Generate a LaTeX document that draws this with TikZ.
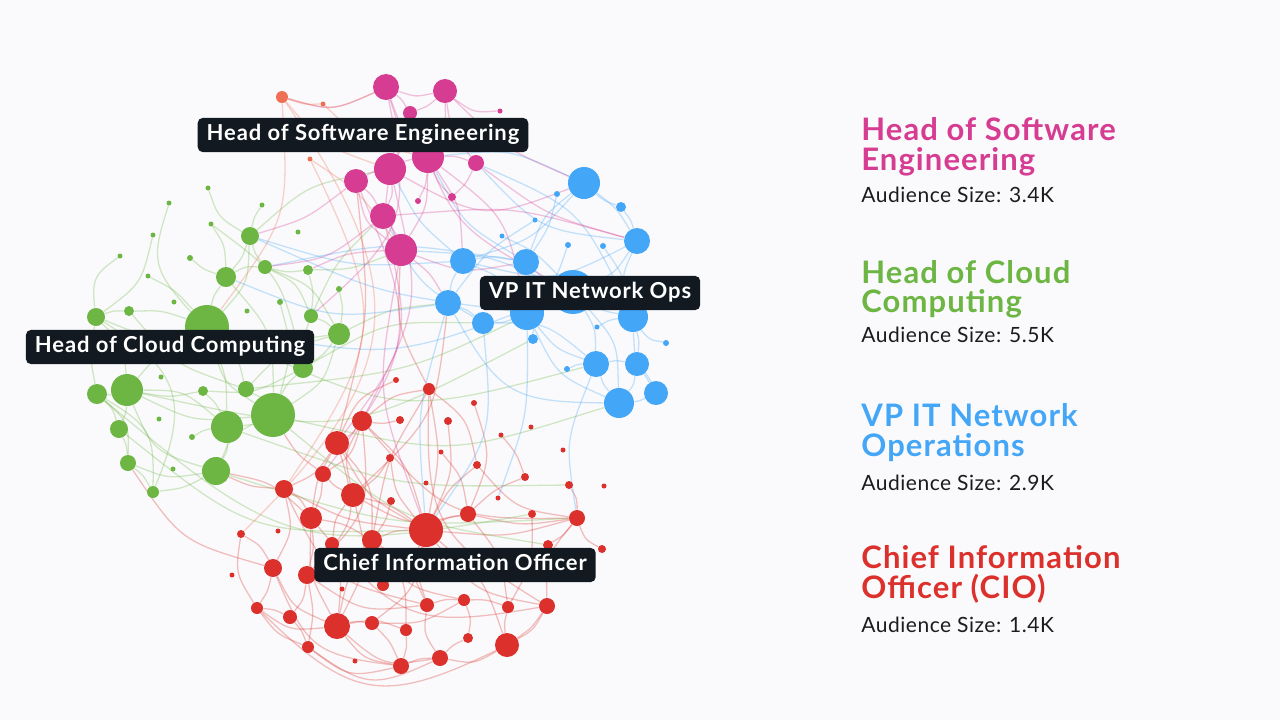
\documentclass[tikz,border=0pt]{standalone}
\usepackage{fontspec}
\setmainfont{Lato}
\newfontfamily\tagfont[LetterSpace=4]{Lato}
\newfontfamily\headfont[LetterSpace=3.5]{Lato}
\newfontfamily\sizefont[LetterSpace=2.5]{Lato}
\usepackage{tikz}
\usetikzlibrary{calc}
\pgfdeclarelayer{paper}
\pgfdeclarelayer{edges}
\pgfsetlayers{paper,edges,main}

\definecolor{pagebg}{HTML}{FAFAFC}
\definecolor{pinkc}{HTML}{D63C91}
\definecolor{greenc}{HTML}{6DB644}
\definecolor{bluec}{HTML}{44A6F7}
\definecolor{redc}{HTML}{DB302B}
\definecolor{coralc}{HTML}{EF6F52}
\definecolor{labelbg}{HTML}{121920}
\definecolor{inkc}{HTML}{1C1C1C}

\tikzset{
  dot/.style={circle, inner sep=0pt, draw=none},
  edge/.style={line width=0.65pt, draw opacity=0.3, looseness=1.35},
  tag/.style={fill=labelbg, text=white, rounded corners=2.5pt, inner xsep=4.5pt,
    text height=8pt, text depth=2.4pt, minimum height=17pt,
    font=\tagfont\fontsize{11}{13}\selectfont\bfseries},
  heading/.style={anchor=base west, inner sep=0pt, font=\headfont\fontsize{15.5}{16}\selectfont\bfseries},
  audience/.style={anchor=base west, inner sep=0pt, text=inkc, font=\sizefont\fontsize{10.5}{12}\selectfont}
}

\begin{document}
\begin{tikzpicture}[x=0.5pt,y=-0.5pt]
\begin{pgfonlayer}{paper}
\fill[pagebg] (0,0) rectangle (1280,720);
\end{pgfonlayer}
\useasboundingbox (0,0) rectangle (1280,720);

% pink cluster
\foreach \n/\x/\y/\r in {1/386/87/13, 2/445/91/12, 3/410/113/7, 4/500/111/2.5, 5/390/169/16,
  6/428/157/16, 7/476/163/8, 8/356/181/12, 9/418/201/3, 10/452/197/4, 11/383/216/13, 12/401/250/16}
\node[dot, fill=pinkc, minimum size=\r pt] (p\n) at (\x,\y) {};
\foreach \n/\x/\y/\r in {1/282/97/6, 2/323/104/2.5, 3/310/159/2.5}
\node[dot, fill=coralc, minimum size=\r pt] (o\n) at (\x,\y) {};

% blue cluster
\foreach \n/\x/\y/\r in {1/584/183/16, 2/557/194/3, 3/621/207/5, 4/535/220/2.5, 5/502/236/2.5,
  6/637/241/13, 7/568/245/3, 8/603/246/3, 9/463/261/13, 10/526/262/13, 11/573/292/22,
  12/448/303/13, 13/483/323/11, 14/527/313/17, 15/633/317/15, 16/533/339/5, 17/597/327/2.5,
  18/666/343/3, 19/596/364/13, 20/637/364/12, 21/567/369/3, 22/619/403/15, 23/656/393/12}
\node[dot, fill=bluec, minimum size=\r pt] (b\n) at (\x,\y) {};

% green cluster
\foreach \n/\x/\y/\r in {1/250/236/9, 2/226/277/10, 3/265/267/7, 4/308/270/5, 5/96/317/9,
  6/129/311/5, 7/207/327/22, 8/311/316/7, 9/339/334/11, 10/303/368/10, 11/127/390/16,
  12/97/394/10, 13/203/391/5, 14/246/389/8, 15/227/427/16, 16/273/415/22, 17/119/429/9,
  18/128/463/8, 19/216/471/14, 20/153/492/6, 21/208/188/2.5, 22/169/203/2.5, 23/262/205/2.5,
  24/211/224/2.5, 25/153/235/2.5, 26/120/256/2.5, 27/190/258/3, 28/148/276/2.5, 29/298/232/2.5,
  30/339/289/3, 31/174/302/2.5, 32/247/311/2.5, 33/280/302/3, 34/161/377/2.5, 35/159/419/2.5,
  36/192/437/3, 37/173/469/2.5}
\node[dot, fill=greenc, minimum size=\r pt] (g\n) at (\x,\y) {};

% red cluster
\foreach \n/\x/\y/\r in {1/396/380/3, 2/429/389/6, 3/362/421/10, 4/400/420/4, 5/448/421/4,
  6/474/403/3, 7/337/443/12, 8/501/435/2.5, 9/531/427/2.5, 10/441/452/2.5, 11/563/450/2.5,
  12/390/458/4, 13/323/474/8, 14/477/465/4, 15/525/477/4, 16/284/489/9, 17/353/495/12,
  18/391/501/4, 19/426/483/2.5, 20/498/498/2.5, 21/569/485/4, 22/604/486/2.5, 23/311/518/11,
  24/426/530/17, 25/468/514/8, 26/532/514/4, 27/577/518/8, 28/241/534/4, 29/278/531/2.5,
  30/332/544/7, 31/372/540/10, 32/548/545/5, 33/602/549/4, 34/273/568/9, 35/307/575/9,
  36/232/575/2.5, 37/383/585/6, 38/342/589/2.5, 39/257/608/6, 40/290/617/7, 41/337/626/13,
  42/372/623/7, 43/427/605/7, 44/464/600/6, 45/508/607/6, 46/547/606/8, 47/406/630/6,
  48/308/647/6, 49/468/638/5, 50/507/645/12, 51/355/661/2.5, 52/401/666/8, 53/440/658/8}
\node[dot, fill=redc, minimum size=\r pt] (r\n) at (\x,\y) {};

\begin{pgfonlayer}{edges}
\foreach \a/\b/\c in {r2/r24/10, r2/r3/-15, r2/r14/20, r2/r31/-10, r3/r7/10, r3/r17/-20,
  r3/r24/15, r3/r13/20, r7/r16/15, r7/r23/-10, r7/r31/20, r7/r24/-15, r13/r23/10, r13/r17/-10,
  r16/r23/15, r16/r34/20, r16/r24/-10, r17/r24/10, r17/r30/-15, r17/r41/20, r17/r25/-20,
  r23/r35/10, r23/r41/-15, r23/r31/10, r24/r31/-10, r24/r25/10, r24/r43/-15, r24/r42/20,
  r24/r46/-20, r24/r50/15, r24/r27/-10, r24/r14/10, r24/r37/15, r25/r27/-10, r25/r45/15,
  r25/r15/10, r27/r46/-20, r27/r32/10, r27/r21/-15, r30/r41/10, r31/r41/-10, r31/r43/15,
  r31/r47/20, r34/r39/10, r34/r41/-20, r35/r40/15, r35/r43/-20, r35/r48/10, r39/r40/10,
  r39/r41/-20, r39/r48/-15, r40/r48/10, r41/r42/10, r41/r52/-20, r41/r47/15, r42/r52/10,
  r42/r44/-15, r43/r44/10, r43/r53/-20, r44/r45/10, r44/r49/15, r45/r50/-10, r46/r50/10,
  r47/r52/10, r49/r53/-10, r50/r53/20, r52/r53/10, r48/r52/-25, r50/r46/-15, r33/r27/20,
  r28/r34/15, r28/r39/-20, r12/r17/10, r12/r24/-15, r18/r31/10, r5/r24/15, r4/r3/10,
  r10/r25/15, r14/r27/-20, r1/r7/-20, r6/r25/20, r8/r15/10, r26/r45/15, r41/r53/-25,
  r34/r52/-30, r16/r43/-25, r23/r46/-30, r39/r50/-35, r7/r35/30, r3/r35/25, r48/r53/-30,
  r44/r31/20, r2/r46/-30, r3/r27/-25, r16/g19/10, r23/g19/-15, r34/g18/20, r13/g16/10,
  r7/p8/-10, r2/p12/15, r17/b12/-20}
\draw[edge, redc] (\a) to[bend left=\c] (\b);
\foreach \a/\b/\c in {g1/g2/10, g1/g3/-10, g1/g7/20, g1/g23/10, g2/g7/-10, g2/g27/10,
  g2/g3/15, g3/g4/-10, g3/g8/20, g4/g8/10, g5/g6/10, g5/g7/-15, g5/g11/20, g5/g12/-10,
  g5/g26/30, g6/g7/10, g7/g11/-10, g7/g14/15, g7/g16/-20, g7/g15/10, g7/g9/-10, g7/g22/30,
  g8/g9/10, g8/g10/-10, g9/g16/20, g9/g10/10, g10/g16/-10, g11/g12/10, g11/g13/-10,
  g11/g15/20, g11/g17/10, g11/g16/-15, g12/g17/15, g12/g18/25, g13/g15/10, g14/g16/10,
  g15/g16/-10, g15/g19/15, g16/g19/-20, g17/g18/10, g18/g19/-15, g18/g20/10, g19/g20/10,
  g11/g19/-25, g12/g20/30, g5/g20/40, g6/g14/-15, g2/g16/20, g13/g10/-15, g14/g9/15,
  g25/g5/20, g21/g1/-20, g24/g2/15, g28/g7/10, g30/g9/10, g33/g16/15, g36/g15/10,
  g10/g24/-20, g3/g9/20, g16/b22/-15, g19/r27/-10, g15/r21/-10, g9/b12/10, g10/b13/15,
  g14/b11/-10, g4/p12/-10, g8/p11/10, g1/p5/15, g16/r32/-15, g11/b16/-20, g12/r26/-25,
  g17/r24/-20, g7/b19/-20}
\draw[edge, greenc] (\a) to[bend left=\c] (\b);
\foreach \a/\b/\c in {b1/b6/10, b1/b10/-15, b1/b3/-10, b1/b9/15, b3/b6/10, b6/b15/-20,
  b6/b11/15, b9/b10/10, b9/b12/-10, b9/b14/15, b10/b11/-10, b10/b14/10, b11/b14/10,
  b11/b15/-10, b11/b19/15, b12/b13/10, b13/b14/-10, b13/b19/20, b14/b16/10, b14/b19/-15,
  b15/b20/10, b15/b23/-15, b19/b20/10, b19/b22/-10, b20/b22/15, b20/b23/10, b22/b23/-10,
  b15/b18/-20, b11/b22/20, b14/b22/-20, b12/b22/-30, b9/b6/-20, b5/b11/10, b7/b14/10,
  b8/b15/10, b2/b10/10, b4/b12/-10, b21/b19/10, b17/b15/10, b9/g1/10, b12/g2/15,
  b10/g3/-10, b11/g7/15, b12/r24/-10, b13/r24/20, b19/r27/-15, b14/r20/10, b1/p6/-15,
  b6/p7/20, b9/p5/10, b10/p6/15, b11/p12/-10, b13/p11/15, b15/p7/-20, b14/g1/8}
\draw[edge, bluec] (\a) to[bend left=\c] (\b);
\foreach \a/\b/\c in {p1/p2/-15, p1/p3/10, p1/p5/15, p1/p6/-10, p2/p3/10, p2/p6/15,
  p2/p7/-15, p3/p5/10, p3/p6/-10, p5/p6/10, p5/p8/-10, p5/p11/15, p5/p12/-15, p6/p7/10,
  p6/p10/-10, p6/p12/15, p7/p10/10, p8/p11/10, p8/p12/-20, p11/p12/10, p6/p9/10, p2/p4/-20,
  p1/o1/20, p12/b12/10, p12/b10/-15, p7/b6/-10, p5/b1/-25, p6/b9/15, p8/g1/10, p11/g3/15,
  p12/g4/-10, p1/g8/30, p12/r24/-15, p11/r7/25, p8/r13/30, p5/r3/20, p2/b1/-10, p6/b14/20,
  p11/b6/10, p3/b11/-20}
\draw[edge, pinkc] (\a) to[bend left=\c] (\b);
\foreach \a/\b/\c in {o1/p1/-20, o1/o2/-10, o1/p5/-15, o2/p6/-15, o3/p12/10, o1/r28/40,
  o3/r16/30, o1/g7/20}
\draw[edge, coralc] (\a) to[bend left=\c] (\b);
\end{pgfonlayer}

% labels on the graph
\node[tag] (swlabel) at (363,135) {Head of Software Engineering};
\node[tag] (netlabel) at (590,293) {VP IT Network Ops};
\node[tag] (cloudlabel) at (170,347) {Head of Cloud Computing};
\node[tag] (ciolabel) at (455,565) {Chief Information Officer};

% legend
\node[heading, text=pinkc] (swa) at (861,140) {Head of Software};
\node[heading, text=pinkc] (swb) at (861,170) {Engineering};
\node[audience] (swc) at (861,202) {Audience Size: 3.4K};
\node[heading, text=greenc] (cla) at (861,283) {Head of Cloud};
\node[heading, text=greenc] (clb) at (861,312) {Computing};
\node[audience] (clc) at (861,342) {Audience Size: 5.5K};
\node[heading, text=bluec] (vpa) at (861,426) {VP IT Network};
\node[heading, text=bluec] (vpb) at (861,456) {Operations};
\node[audience] (vpc) at (861,490) {Audience Size: 2.9K};
\node[heading, text=redc] (cia) at (861,568) {Chief Information};
\node[heading, text=redc] (cib) at (861,598) {Officer (CIO)};
\node[audience] (cic) at (861,632) {Audience Size: 1.4K};
\end{tikzpicture}
\end{document}
